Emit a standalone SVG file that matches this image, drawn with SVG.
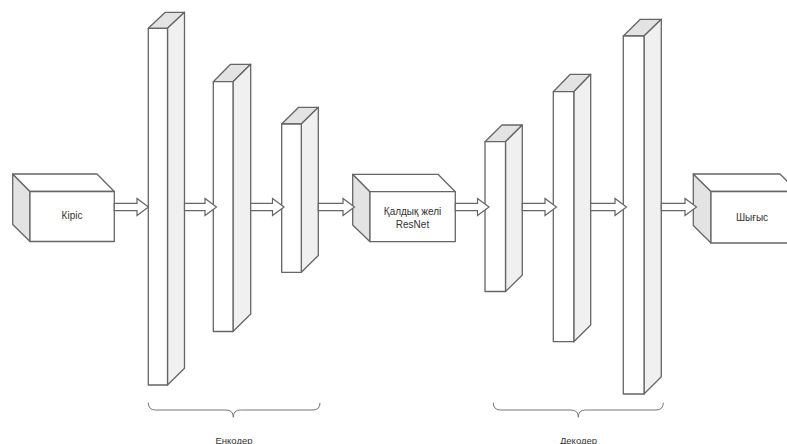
<svg xmlns="http://www.w3.org/2000/svg" width="787" height="444" viewBox="0 0 787 444">
<style>
.ln{stroke:#666;stroke-width:1.3;stroke-linejoin:round}
.fr{fill:#fff}
.tp{fill:#e3e3e3}
.sd{fill:#f0f0f0}
.lf{fill:#e3e3e3}
.bt{fill:#fff}
.t{font-family:"Liberation Sans",Arial,sans-serif;font-size:10px;fill:#333;text-anchor:middle}
.c{font-family:"Liberation Sans",Arial,sans-serif;font-size:9.5px;fill:#333;text-anchor:middle}
.ar{fill:#fff;stroke:#666;stroke-width:1.2;stroke-linejoin:miter}
.br{fill:none;stroke:#777;stroke-width:1}
</style>
<rect width="787" height="444" fill="#fff"/>

<g id="input">
<path class="ln lf" d="M12.7,174 L30,191.5 L30,241.5 L12.7,224.5 Z"/>
<path class="ln bt" d="M12.7,174 L97,174 L114.3,191.5 L30,191.5 Z"/>
<rect class="ln fr" x="30" y="191.5" width="84.3" height="50"/>
<text class="t" x="72" y="218.5">Кіріс</text>
</g>

<g id="enc1">
<path class="ln tp" d="M148.3,28.3 L165.3,12.3 L184.5,12.3 L167.5,28.3 Z"/>
<path class="ln sd" d="M167.5,28.3 L184.5,12.3 L184.5,368.3 L167.5,385 Z"/>
<rect class="ln fr" x="148.3" y="28.3" width="19.2" height="356.7"/>
</g>

<g id="enc2">
<path class="ln tp" d="M213.3,81.7 L230.5,64.3 L250.7,64.3 L233,81.7 Z"/>
<path class="ln sd" d="M233,81.7 L250.7,64.3 L250.7,314 L233,331.5 Z"/>
<rect class="ln fr" x="213.3" y="81.7" width="19.7" height="249.8"/>
</g>

<g id="enc3">
<path class="ln tp" d="M281.7,124 L298.7,107.3 L318.3,107.3 L301.3,124 Z"/>
<path class="ln sd" d="M301.3,124 L318.3,107.3 L318.3,255.5 L301.3,272.3 Z"/>
<rect class="ln fr" x="281.7" y="124" width="19.6" height="148.3"/>
</g>

<g id="resnet">
<path class="ln lf" d="M352.7,174.3 L370,191.7 L370,241.7 L352.7,225 Z"/>
<path class="ln bt" d="M352.7,174.3 L438,174.3 L455.3,191.7 L370,191.7 Z"/>
<rect class="ln fr" x="370" y="191.7" width="85.3" height="50"/>
<text class="t" x="412.5" y="215">Қалдық желі</text>
<text class="t" x="412.5" y="227.5">ResNet</text>
</g>

<g id="dec1">
<path class="ln tp" d="M485,141.7 L502,125 L522.3,125 L505.5,141.7 Z"/>
<path class="ln sd" d="M505.5,141.7 L522.3,125 L522.3,275 L505.5,291.5 Z"/>
<rect class="ln fr" x="485" y="141.7" width="20.5" height="149.8"/>
</g>

<g id="dec2">
<path class="ln tp" d="M553.3,91.7 L570.3,74.3 L590.7,74.3 L573.8,91.7 Z"/>
<path class="ln sd" d="M573.8,91.7 L590.7,74.3 L590.7,325 L573.8,341.7 Z"/>
<rect class="ln fr" x="553.3" y="91.7" width="20.5" height="250"/>
</g>

<g id="dec3">
<path class="ln tp" d="M623.3,36 L640.3,19.3 L661.3,19.3 L644,36 Z"/>
<path class="ln sd" d="M644,36 L661.3,19.3 L661.3,376.7 L644,394 Z"/>
<rect class="ln fr" x="623.3" y="36" width="20.7" height="358"/>
</g>

<g id="output">
<path class="ln lf" d="M693.3,174 L711,191.5 L711,243 L693.3,225.5 Z"/>
<path class="ln bt" d="M693.3,174 L780,174 L797.5,191.5 L711,191.5 Z"/>
<rect class="ln fr" x="711" y="191.5" width="86.5" height="51.5"/>
<text class="t" x="752" y="220.5">Шығыс</text>
</g>

<g id="connectors">
<path class="ar" d="M114.3,203.3 L137,203.3 L137,198.5 L148.5,207 L137,215.5 L137,210.7 L114.3,210.7 Z"/>
<path class="ar" d="M184.5,203.3 L205,203.3 L205,198.5 L216.5,207 L205,215.5 L205,210.7 L184.5,210.7 Z"/>
<path class="ar" d="M250.7,203.3 L272.5,203.3 L272.5,198.5 L284,207 L272.5,215.5 L272.5,210.7 L250.7,210.7 Z"/>
<path class="ar" d="M318.3,203.3 L343,203.3 L343,198.5 L354.5,207 L343,215.5 L343,210.7 L318.3,210.7 Z"/>
<path class="ar" d="M455.3,203.3 L477.5,203.3 L477.5,198.5 L489,207 L477.5,215.5 L477.5,210.7 L455.3,210.7 Z"/>
<path class="ar" d="M522.3,203.3 L545,203.3 L545,198.5 L556.5,207 L545,215.5 L545,210.7 L522.3,210.7 Z"/>
<path class="ar" d="M590.7,203.3 L615,203.3 L615,198.5 L626.5,207 L615,215.5 L615,210.7 L590.7,210.7 Z"/>
<path class="ar" d="M661.3,203.3 L685,203.3 L685,198.5 L696.5,207 L685,215.5 L685,210.7 L661.3,210.7 Z"/>
</g>

<g id="encoder-brace">
<path class="br" d="M148.3,402.7 Q148.3,410 155.5,410 L226,410 Q233.3,410 233.3,417.3 Q233.3,410 240.5,410 L313,410 Q320,410 320,402.7"/>
<text class="c" x="234" y="443.5">Енкодер</text>
</g>

<g id="decoder-brace">
<path class="br" d="M493.3,402.7 Q493.3,410 500.5,410 L571,410 Q578.3,410 578.3,417.3 Q578.3,410 585.5,410 L656,410 Q663.3,410 663.3,402.7"/>
<text class="c" x="578.5" y="443.5">Декодер</text>
</g>
</svg>
